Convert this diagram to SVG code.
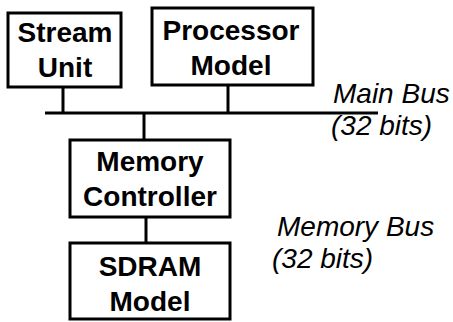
<svg xmlns="http://www.w3.org/2000/svg" width="453" height="322" viewBox="0 0 453 322">
<style>
.box{fill:#fff;stroke:#000;stroke-width:3}
.ln{stroke:#000;stroke-width:3;fill:none}
.t{font-family:"Liberation Sans",Arial,sans-serif;font-weight:bold;font-size:28px;text-anchor:middle;fill:#000}
.i{font-family:"Liberation Sans",Arial,sans-serif;font-style:italic;font-size:28px;fill:#000}
</style>
<rect width="453" height="322" fill="#fff"/>
<g id="connectors">
<line class="ln" x1="45" y1="113" x2="378" y2="113"/>
<line class="ln" x1="63" y1="87" x2="63" y2="113"/>
<line class="ln" x1="228" y1="85" x2="228" y2="113"/>
<line class="ln" x1="144" y1="113" x2="144" y2="140"/>
<line class="ln" x1="146" y1="217" x2="146" y2="243"/>
</g>
<g id="stream-unit">
<rect class="box" x="8" y="13" width="113" height="74"/>
<text class="t" x="65" y="42">Stream</text>
<text class="t" x="65" y="77">Unit</text>
</g>
<g id="processor-model">
<rect class="box" x="152" y="8" width="161" height="77"/>
<text class="t" x="231" y="40">Processor</text>
<text class="t" x="231" y="75">Model</text>
</g>
<g id="memory-controller">
<rect class="box" x="70" y="140" width="160" height="77"/>
<text class="t" x="150" y="171">Memory</text>
<text class="t" x="150" y="206">Controller</text>
</g>
<g id="sdram-model">
<rect class="box" x="70" y="243" width="160" height="76"/>
<text class="t" x="150" y="276">SDRAM</text>
<text class="t" x="150" y="311">Model</text>
</g>
<g id="main-bus-label">
<text class="i" x="333" y="103">Main Bus</text>
<text class="i" x="331" y="135">(32 bits)</text>
</g>
<g id="memory-bus-label">
<text class="i" x="277" y="236">Memory Bus</text>
<text class="i" x="272" y="268">(32 bits)</text>
</g>
</svg>
